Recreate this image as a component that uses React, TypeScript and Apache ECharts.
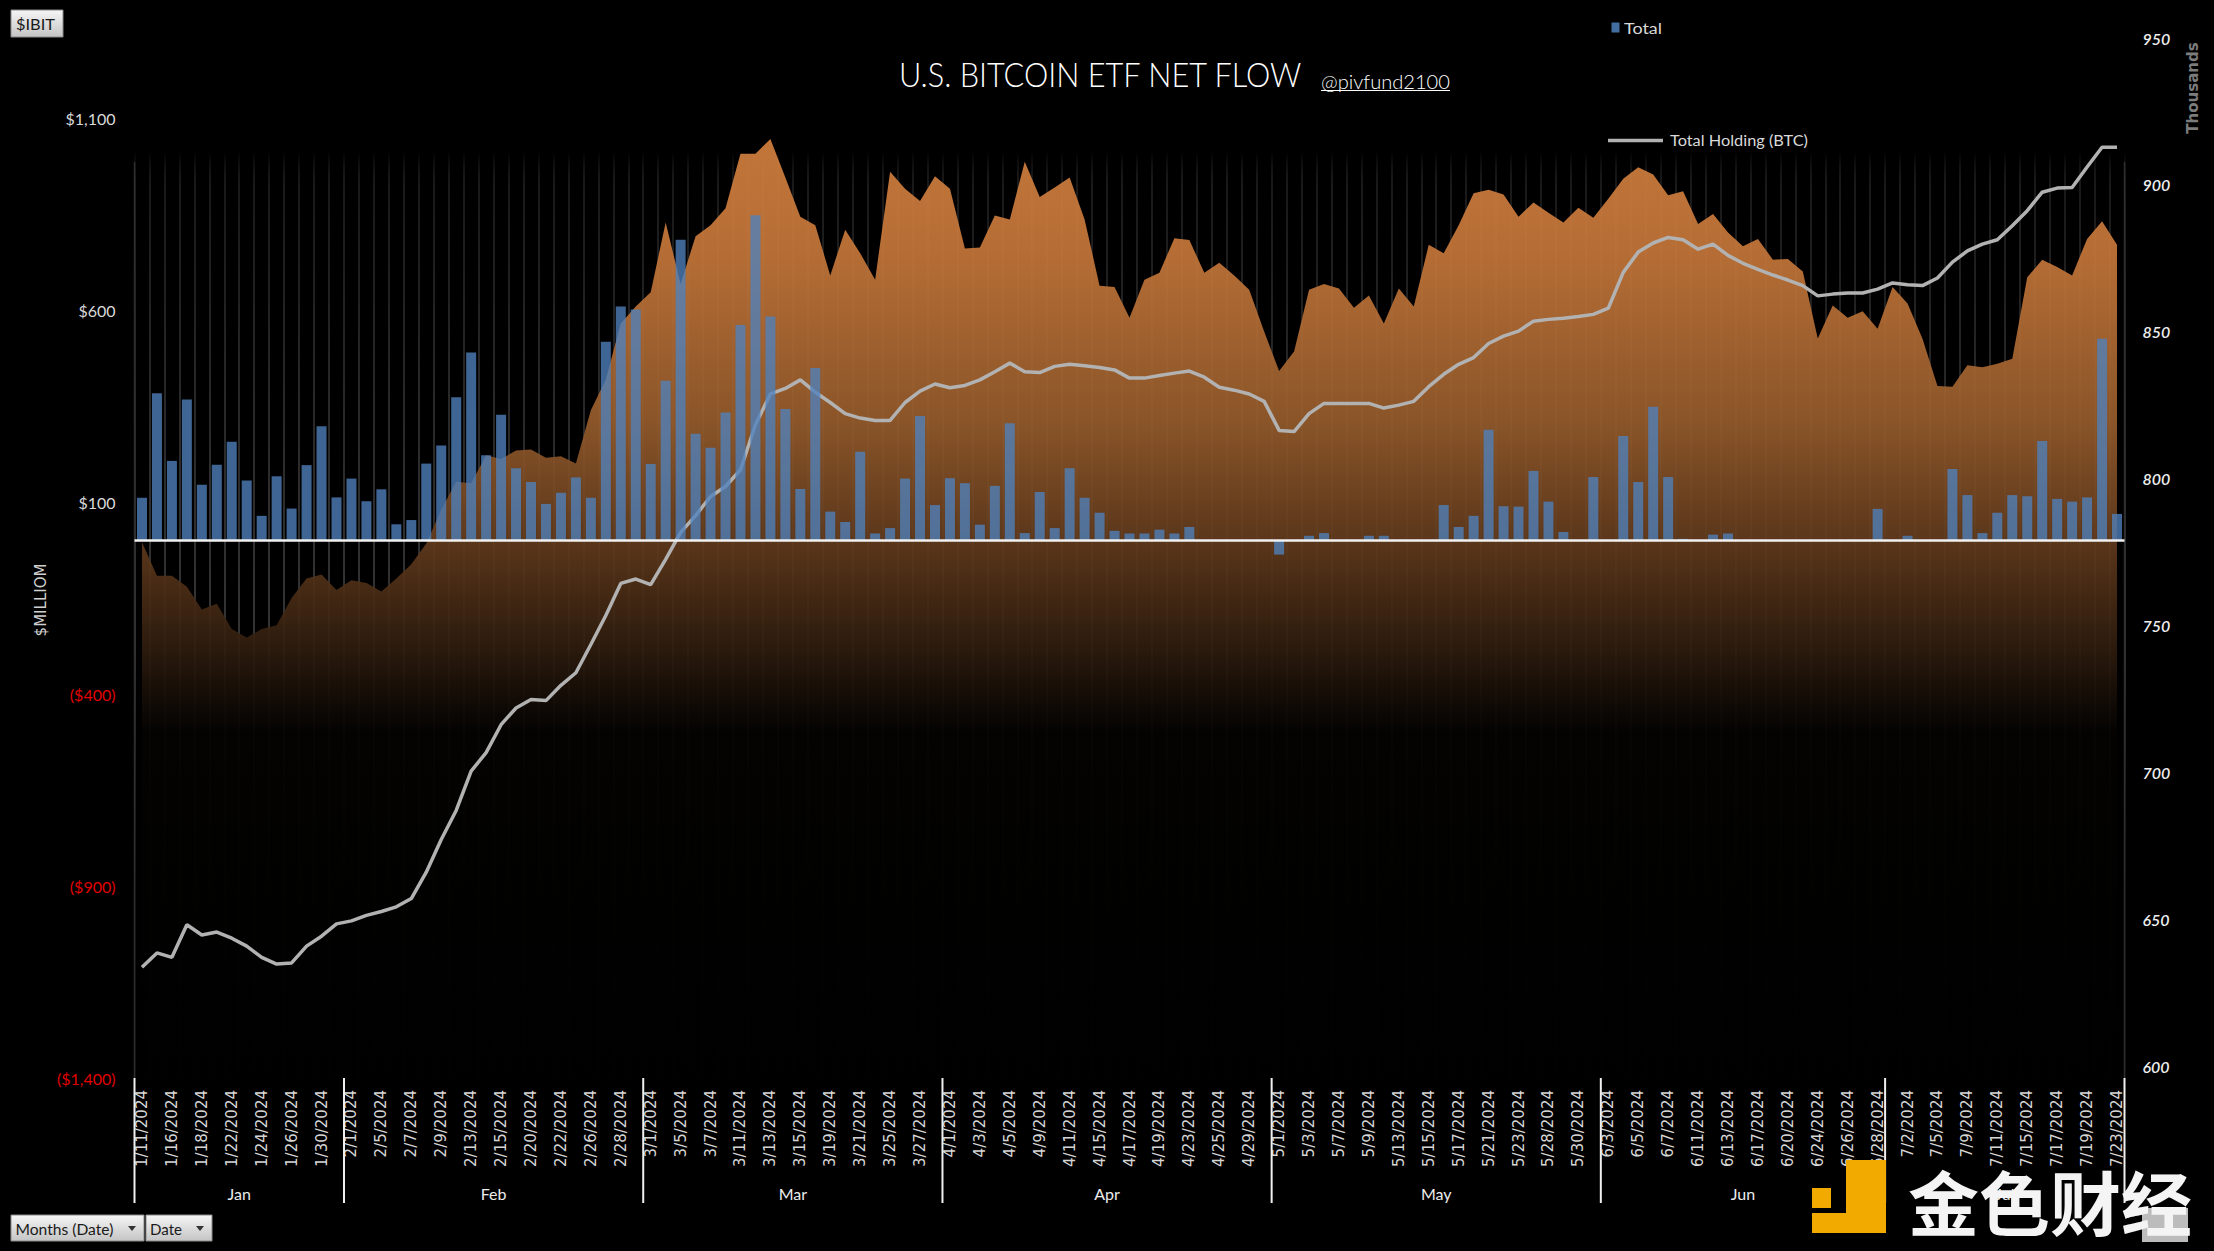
import React, { useEffect, useRef } from "react";
import * as echarts from "echarts";

const dates: string[] = [
  "1/11/2024", "1/12/2024", "1/16/2024", "1/17/2024", "1/18/2024", "1/19/2024", "1/22/2024", "1/23/2024", "1/24/2024", "1/25/2024", "1/26/2024", "1/29/2024", "1/30/2024", "1/31/2024",
  "2/1/2024", "2/2/2024", "2/5/2024", "2/6/2024", "2/7/2024", "2/8/2024", "2/9/2024", "2/12/2024", "2/13/2024", "2/14/2024", "2/15/2024", "2/16/2024", "2/20/2024", "2/21/2024", "2/22/2024", "2/23/2024", "2/26/2024", "2/27/2024", "2/28/2024", "2/29/2024",
  "3/1/2024", "3/4/2024", "3/5/2024", "3/6/2024", "3/7/2024", "3/8/2024", "3/11/2024", "3/12/2024", "3/13/2024", "3/14/2024", "3/15/2024", "3/18/2024", "3/19/2024", "3/20/2024", "3/21/2024", "3/22/2024", "3/25/2024", "3/26/2024", "3/27/2024", "3/28/2024",
  "4/1/2024", "4/2/2024", "4/3/2024", "4/4/2024", "4/5/2024", "4/8/2024", "4/9/2024", "4/10/2024", "4/11/2024", "4/12/2024", "4/15/2024", "4/16/2024", "4/17/2024", "4/18/2024", "4/19/2024", "4/22/2024", "4/23/2024", "4/24/2024", "4/25/2024", "4/26/2024", "4/29/2024", "4/30/2024",
  "5/1/2024", "5/2/2024", "5/3/2024", "5/6/2024", "5/7/2024", "5/8/2024", "5/9/2024", "5/10/2024", "5/13/2024", "5/14/2024", "5/15/2024", "5/16/2024", "5/17/2024", "5/20/2024", "5/21/2024", "5/22/2024", "5/23/2024", "5/24/2024", "5/28/2024", "5/29/2024", "5/30/2024", "5/31/2024",
  "6/3/2024", "6/4/2024", "6/5/2024", "6/6/2024", "6/7/2024", "6/10/2024", "6/11/2024", "6/12/2024", "6/13/2024", "6/14/2024", "6/17/2024", "6/18/2024", "6/20/2024", "6/21/2024", "6/24/2024", "6/25/2024", "6/26/2024", "6/27/2024", "6/28/2024",
  "7/1/2024", "7/2/2024", "7/3/2024", "7/5/2024", "7/8/2024", "7/9/2024", "7/10/2024", "7/11/2024", "7/12/2024", "7/15/2024", "7/16/2024", "7/17/2024", "7/18/2024", "7/19/2024", "7/22/2024", "7/23/2024",
];

// daily net flow, $ million (bars, "Total")
const totalFlow: number[] = [
  111, 383, 207, 367, 145, 197, 257, 156, 64, 167, 83, 196, 297, 112,
  161, 102, 133, 42, 53, 200, 247, 373, 489, 222, 327, 188, 152, 95, 124, 164, 111, 517, 609, 601,
  199, 416, 783, 278, 241, 333, 561, 847, 583, 342, 134, 449, 75, 48, 231, 18, 32, 161, 324, 92,
  162, 149, 41, 142, 305, 19, 126, 32, 188, 111, 72, 25, 18, 18, 28, 18, 35, 0, 0, 0, 0, 0,
  -37, 0, 12, 19, 0, 0, 12, 12, 0, 0, 0, 92, 35, 64, 288, 89, 88, 181, 101, 22, 0, 165,
  0, 272, 152, 348, 165, 4, 0, 15, 18, 0, 0, 0, 0, 0, 0, 0, 0, 0, 82,
  0, 12, 0, 0, 186, 118, 19, 72, 118, 115, 259, 108, 101, 112, 525, 69,
];

// orange area series, read on the left ($ million) scale
const priceArea: number[] = [
  -5, -92, -92, -121, -180, -165, -231, -253, -231, -221, -150, -99, -89, -129,
  -104, -111, -133, -99, -62, -8, 80, 153, 149, 222, 212, 234, 237, 215, 219, 200, 339, 419, 565, 609,
  646, 828, 668, 792, 821, 865, 1007, 1007, 1045, 945, 843, 821, 690, 809, 748, 679, 960, 916, 884, 948,
  916, 760, 763, 846, 836, 986, 894, 919, 945, 836, 663, 660, 580, 679, 697, 787, 782, 697, 723, 690, 653, 544,
  441, 492, 653, 668, 656, 606, 638, 565, 656, 609, 770, 748, 821, 904, 913, 901, 843, 880, 853, 828, 866, 840,
  890, 942, 972, 953, 899, 909, 824, 850, 802, 766, 785, 731, 733, 700, 526, 612, 580, 597, 551,
  660, 617, 525, 402, 400, 456, 451, 460, 473, 685, 731, 712, 690, 785, 831, 770,
];

// Total Holding (BTC), thousands
const totalHolding: number[] = [
  633.6, 638.5, 637.0, 648.1, 644.6, 645.6, 643.5, 640.8, 637.0, 634.7, 635.1, 640.8, 644.2, 648.4,
  649.4, 651.3, 652.6, 654.2, 657.0, 666.0, 677.1, 687.0, 700.4, 706.7, 716.2, 721.9, 724.8, 724.4, 729.6, 733.9, 743.5, 753.4, 764.3, 765.8,
  763.9, 772.5, 781.7, 787.4, 793.9, 797.3, 803.0, 818.3, 828.8, 830.7, 833.6, 829.4, 825.9, 822.1, 820.6, 819.8, 819.8, 825.9, 829.8, 832.2,
  830.9, 831.7, 833.6, 836.4, 839.3, 836.4, 836.1, 838.2, 838.9, 838.4, 837.8, 837.0, 834.2, 834.2, 835.1, 835.9, 836.6, 834.5, 831.1, 830.1, 828.8, 826.3,
  816.4, 816.0, 822.1, 825.6, 825.6, 825.6, 825.6, 824.0, 825.0, 826.3, 831.3, 835.5, 838.9, 841.2, 846.0, 848.5, 850.2, 853.6, 854.2, 854.6, 855.2, 855.9,
  858.0, 870.2, 877.1, 880.2, 882.1, 881.3, 878.1, 879.8, 876.0, 873.3, 871.2, 869.3, 867.6, 865.7, 862.2, 862.8, 863.2, 863.2, 864.5,
  866.6, 866.0, 865.7, 868.3, 873.7, 877.5, 879.8, 881.3, 886.1, 891.2, 897.5, 898.9, 899.1, 906.1, 912.8, 912.8,
];

const monthNames: string[] = ["Jan", "Feb", "Mar", "Apr", "May", "Jun", "Jul"];

const leftMin = -1400;
const leftMax = 1100;
const leftStep = 500;
const rightMin = 600;
const rightMax = 950;
const rightStep = 50;

const W = 2214;
const H = 1251;

function measureWidth(text: string, font: string): number {
  const ctx = document.createElement("canvas").getContext("2d");
  if (!ctx) return 0;
  ctx.font = font;
  return ctx.measureText(text).width;
}

function fitText(text: string, x: number, y: number, size: number, family: string, weight: string | number, fill: string, targetW: number, extra: any = {}) {
  const w = measureWidth(text, `${weight} ${size}px ${family}`);
  const sx = w > 0 && targetW > 0 ? targetW / w : 1;
  return {
    type: "text",
    x,
    y,
    scaleX: sx,
    scaleY: 1,
    style: {
      text,
      fontSize: size,
      fontFamily: family,
      fontWeight: weight,
      fill,
      textAlign: "left",
      textVerticalAlign: "middle",
      align: "left",
      verticalAlign: "middle",
    },
    ...extra,
  };
}

function fmtMoney(v: number): string {
  const s = "$" + Math.abs(Math.round(v)).toLocaleString("en-US");
  return v < 0 ? "(" + s + ")" : s;
}

function monthOf(d: string): number {
  return parseInt(d.split("/")[0], 10);
}

export default function App() {
  const ref = useRef<HTMLDivElement>(null);

  useEffect(() => {
    if (!ref.current) return;
    const chart = echarts.init(ref.current, undefined, { renderer: "svg" });

    const gridLineGrad = new echarts.graphic.LinearGradient(0, 118, 0, 1078, [
      { offset: 0, color: "rgba(60,60,60,0)" },
      { offset: 0.035, color: "rgba(60,60,60,0)" },
      { offset: 0.07, color: "#222222" },
      { offset: 0.3, color: "#363636" },
      { offset: 0.55, color: "#464646" },
      { offset: 0.68, color: "#262626" },
      { offset: 0.8, color: "#121212" },
      { offset: 1, color: "#0b0b0b" },
    ], true);

    const areaGrad = new echarts.graphic.LinearGradient(0, 118, 0, 1078, [
      { offset: 0, color: "rgb(212,129,63)" },
      { offset: 0.1375, color: "rgb(198,119,58)" },
      { offset: 0.3146, color: "rgb(150,92,44)" },
      { offset: 0.4406, color: "rgb(98,59,29)" },
      { offset: 0.502, color: "rgb(70,42,20)" },
      { offset: 0.554, color: "rgb(46,28,14)" },
      { offset: 0.606, color: "rgb(20,12,6)" },
      { offset: 0.64, color: "rgb(4,3,2)" },
      { offset: 1, color: "rgb(0,0,0)" },
    ], true);

    const option: any = {
      backgroundColor: "#000000",
      animation: false,
      grid: [
        { left: 134.5, right: W - 2124.5, top: 118, bottom: H - 1078, outerBoundsMode: "none", containLabel: false },
        { left: 134.5, right: W - 2124.5, top: 38, bottom: H - 1066, outerBoundsMode: "none", containLabel: false },
      ],
      xAxis: [
        {
          type: "category",
          gridIndex: 0,
          data: dates,
          boundaryGap: true,
          axisLine: { show: false },
          axisTick: { show: false },
          axisLabel: {
            interval: 1,
            rotate: 90,
            margin: 12,
            color: "#d6d6d6",
            fontFamily: "DejaVu Sans",
            fontSize: 15,
            hideOverlap: false,
          },
          splitLine: { show: true, interval: 0, lineStyle: { color: gridLineGrad, width: 1.5 } },
        },
        { type: "category", gridIndex: 1, data: dates, boundaryGap: true, show: false },
      ],
      yAxis: [
        {
          type: "value",
          gridIndex: 0,
          min: leftMin,
          max: leftMax,
          interval: leftStep,
          axisLine: { show: false },
          axisTick: { show: false },
          splitLine: { show: false },
          axisLabel: {
            margin: 19,
            formatter: (v: number) => (v < 0 ? `{neg|${fmtMoney(v)}}` : `{pos|${fmtMoney(v)}}`),
            rich: {
              pos: { color: "#d9d9d9", fontFamily: "Lato", fontSize: 16 },
              neg: { color: "#e00000", fontFamily: "Lato", fontSize: 16 },
            },
          },
        },
        {
          type: "value",
          gridIndex: 1,
          position: "right",
          min: rightMin,
          max: rightMax,
          interval: rightStep,
          axisLine: { show: false },
          axisTick: { show: false },
          splitLine: { show: false },
          axisLabel: { margin: 18, color: "#eeeeee", fontStyle: "italic", fontWeight: 600, fontFamily: "Lato", fontSize: 16 },
        },
      ],
      series: [
        {
          name: "Price",
          type: "line",
          xAxisIndex: 0,
          yAxisIndex: 0,
          data: priceArea,
          symbol: "none",
          lineStyle: { width: 0, opacity: 0 },
          areaStyle: { origin: "start", color: areaGrad, opacity: 0.92 },
          z: 1,
          silent: true,
        },
        {
          name: "Total Holding (BTC)",
          type: "line",
          xAxisIndex: 1,
          yAxisIndex: 1,
          data: totalHolding,
          symbol: "none",
          lineStyle: { color: "#b2b2b2", width: 3.5 },
          z: 2,
          silent: true,
        },
        {
          name: "Total",
          type: "bar",
          xAxisIndex: 0,
          yAxisIndex: 0,
          data: totalFlow,
          barWidth: 10,
          itemStyle: { color: "rgba(79,129,189,0.78)" },
          z: 3,
          silent: true,
          markLine: {
            silent: true,
            symbol: "none",
            label: { show: false },
            lineStyle: { color: "#f2f2f2", width: 2.5, type: "solid" },
            data: [{ yAxis: 0 }],
          },
        },
      ],
    };

    chart.setOption(option);

    // positions derived from the chart's own scales
    const c0 = chart.convertToPixel({ xAxisIndex: 0 }, 0) as unknown as number;
    const c1 = chart.convertToPixel({ xAxisIndex: 0 }, 1) as unknown as number;
    const step = c1 - c0;
    const xStart = c0 - step / 2;
    const yBottom = chart.convertToPixel({ yAxisIndex: 0 }, leftMin) as unknown as number;

    const bounds: number[] = [];
    const mids: number[] = [];
    const names: string[] = [];
    let start = 0;
    for (let i = 1; i <= dates.length; i++) {
      if (i === dates.length || monthOf(dates[i]) !== monthOf(dates[i - 1])) {
        bounds.push(start);
        mids.push((start + i) / 2);
        names.push(monthNames[monthOf(dates[start]) - 1]);
        start = i;
      }
    }
    bounds.push(dates.length);

    const elements: any[] = [];

    // plot edge lines
    [0, dates.length].forEach((b) => {
      const x = xStart + b * step;
      elements.push({
        type: "line",
        shape: { x1: x, y1: 162, x2: x, y2: yBottom },
        style: { stroke: "#2e2e2e", lineWidth: 1.5 },
        z: 1,
      });
    });

    // month separators and labels
    bounds.forEach((b) => {
      const x = xStart + b * step;
      elements.push({
        type: "line",
        shape: { x1: x, y1: yBottom, x2: x, y2: 1203 },
        style: { stroke: "#f0f0f0", lineWidth: 2 },
        z: 5,
      });
    });
    mids.forEach((m, k) => {
      elements.push({
        type: "text",
        x: xStart + m * step,
        y: 1193,
        style: {
          text: names[k],
          fontSize: 16,
          fontFamily: "Lato",
          fill: "#ececec",
          textAlign: "center",
          textVerticalAlign: "middle",
          align: "center",
          verticalAlign: "middle",
        },
        z: 5,
      });
    });

    // title
    elements.push(fitText("U.S. BITCOIN ETF NET FLOW", 899, 74, 34, "Lato", 300, "#ffffff", 404, { z: 10 }));
    elements.push(fitText("@pivfund2100", 1321, 81, 20, "Lato", 300, "#ffffff", 129, { z: 10 }));
    elements.push({
      type: "line",
      shape: { x1: 1321, y1: 90.5, x2: 1450, y2: 90.5 },
      style: { stroke: "#ffffff", lineWidth: 1.2 },
      z: 10,
    });

    // legend
    elements.push({
      type: "rect",
      shape: { x: 1611.5, y: 22.5, width: 8, height: 10 },
      style: { fill: "rgba(79,129,189,0.85)" },
      z: 10,
    });
    elements.push(fitText("Total", 1624, 28, 16, "Lato", 400, "#d9d9d9", 38, { z: 10 }));
    elements.push({
      type: "line",
      shape: { x1: 1608, y1: 140.5, x2: 1663, y2: 140.5 },
      style: { stroke: "#b2b2b2", lineWidth: 3.5 },
      z: 10,
    });
    elements.push(fitText("Total Holding (BTC)", 1670, 140, 16, "Lato", 400, "#d9d9d9", 138, { z: 10 }));

    // axis names
    elements.push({
      type: "text",
      x: 41,
      y: 600,
      rotation: Math.PI / 2,
      style: {
        text: "$MILLIOM",
        fontSize: 15,
        fontFamily: "DejaVu Sans",
        fill: "#d0d0d0",
        textAlign: "center",
        textVerticalAlign: "middle",
        align: "center",
        verticalAlign: "middle",
      },
      z: 10,
    });
    elements.push({
      type: "text",
      x: 2193,
      y: 88,
      rotation: Math.PI / 2,
      style: {
        text: "Thousands",
        fontSize: 15,
        fontWeight: "bold",
        fontFamily: "DejaVu Sans",
        fill: "#7c7c7c",
        textAlign: "center",
        textVerticalAlign: "middle",
        align: "center",
        verticalAlign: "middle",
      },
      z: 10,
    });

    // pivot buttons
    const btnFill = () =>
      new echarts.graphic.LinearGradient(0, 0, 0, 1, [
        { offset: 0, color: "#f6f6f6" },
        { offset: 1, color: "#c4c4c4" },
      ]);
    elements.push({
      type: "rect",
      shape: { x: 11, y: 10, width: 52, height: 27 },
      style: { fill: btnFill(), stroke: "#8a8a8a", lineWidth: 1 },
      z: 10,
    });
    elements.push(fitText("$IBIT", 16, 23.5, 16, "Lato", 400, "#1a1a1a", 39, { z: 11 }));

    elements.push({
      type: "rect",
      shape: { x: 11, y: 1215, width: 133, height: 26 },
      style: { fill: btnFill(), stroke: "#8a8a8a", lineWidth: 1 },
      z: 10,
    });
    elements.push(fitText("Months (Date)", 15.5, 1228.5, 16, "Lato", 400, "#1a1a1a", 98, { z: 11 }));
    elements.push({
      type: "polygon",
      shape: { points: [[128, 1226], [136, 1226], [132, 1231]] },
      style: { fill: "#333333" },
      z: 11,
    });
    elements.push({
      type: "rect",
      shape: { x: 146, y: 1215, width: 66, height: 26 },
      style: { fill: btnFill(), stroke: "#8a8a8a", lineWidth: 1 },
      z: 10,
    });
    elements.push(fitText("Date", 150, 1228.5, 16, "Lato", 400, "#1a1a1a", 32, { z: 11 }));
    elements.push({
      type: "polygon",
      shape: { points: [[196, 1226], [204, 1226], [200, 1231]] },
      style: { fill: "#333333" },
      z: 11,
    });

    // small grey control partly under the watermark
    elements.push({
      type: "rect",
      shape: { x: 2142, y: 1208, width: 46, height: 34 },
      style: { fill: "#bcbcbc" },
      z: 20,
    });

    // watermark
    const gold = "#f2a900";
    elements.push({ type: "rect", shape: { x: 1846, y: 1160, width: 40, height: 73 }, style: { fill: gold }, z: 30 });
    elements.push({ type: "rect", shape: { x: 1812, y: 1213, width: 74, height: 20 }, style: { fill: gold }, z: 30 });
    elements.push({ type: "rect", shape: { x: 1812, y: 1188, width: 19, height: 20 }, style: { fill: gold }, z: 30 });
    elements.push(fitText("金色财经", 1908, 1200, 70, "Noto Sans CJK SC", "bold", "#f4f4f4", 284, { z: 30 }));

    chart.setOption({ graphic: { elements } });

    return () => {
      chart.dispose();
    };
  }, []);

  return (
    <div
      ref={ref}
      style={{ position: "fixed", left: 0, top: 0, width: W, height: H, background: "#000" }}
    />
  );
}
